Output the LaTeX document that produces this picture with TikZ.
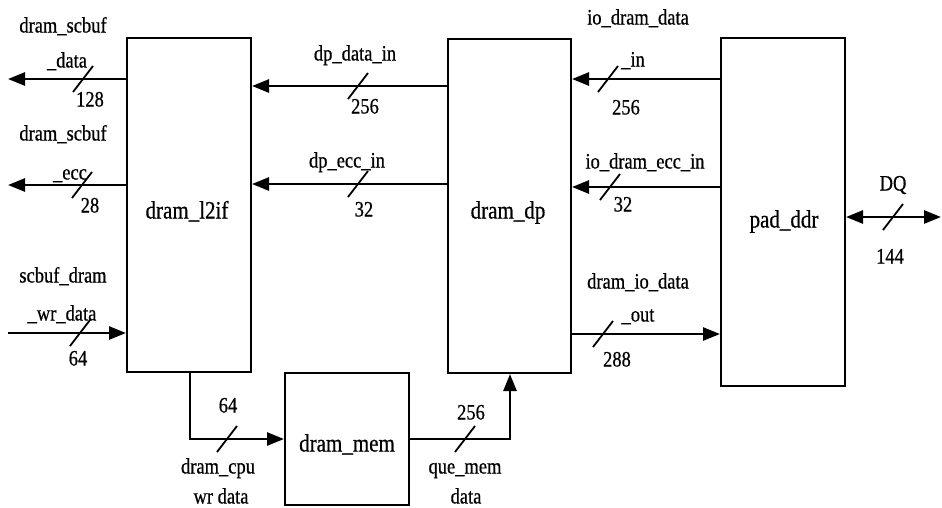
\documentclass[tikz,border=0pt]{standalone}
\usepackage{fontspec}
\setmainfont{Liberation Serif}[FakeStretch=0.84, FakeBold=0.6]
\usetikzlibrary{arrows.meta}
\begin{document}
\begin{tikzpicture}[x=1pt,y=-1pt,
  blk/.style={draw, line width=2pt, inner sep=0pt},
  sig/.style={line width=2.6pt, -{Triangle[length=17pt,width=13pt]}},
  bidir/.style={line width=2.6pt, {Triangle[length=17pt,width=13pt]}-{Triangle[length=17pt,width=13pt]}},
  slash/.style={line width=1.8pt},
  lbl/.style={inner sep=0pt, font=\fontsize{22}{24}\selectfont, text height=15pt, text depth=0pt},
  blbl/.style={inner sep=0pt, font=\fontsize{25}{27}\selectfont, text height=17pt, text depth=0pt}]
\useasboundingbox (0,0) rectangle (942,507);

% blocks
\node[blk, minimum width=124pt, minimum height=334pt] (l2if) at (189,205) {};
\node[blbl] (l2ift) at (187,210) {dram\_l2if};
\node[blk, minimum width=123pt, minimum height=334pt] (dp) at (509.5,206) {};
\node[blbl] (dpt) at (508,210) {dram\_dp};
\node[blk, minimum width=124pt, minimum height=348pt] (pad) at (783,212) {};
\node[blbl] (padt) at (784,219) {pad\_ddr};
\node[blk, minimum width=124pt, minimum height=132pt] (mem) at (347,439) {};
\node[blbl] (memt) at (347,443) {dram\_mem};

% free ends
\coordinate (o1) at (8,79);
\coordinate (o2) at (8,185);
\coordinate (i1) at (8,333);
\coordinate (dq) at (941,217);

% connectors
\draw[sig] (l2if.west |- o1) -- (o1);
\draw[sig] (l2if.west |- o2) -- (o2);
\draw[sig] (i1) -- (l2if.west |- i1);
\draw[sig] (dp.west |- 0,86) -- (l2if.east |- 0,86);
\draw[sig] (dp.west |- 0,184) -- (l2if.east |- 0,184);
\draw[sig] (pad.west |- 0,79) -- (dp.east |- 0,79);
\draw[sig] (pad.west |- 0,187) -- (dp.east |- 0,187);
\draw[sig] (dp.east |- 0,334) -- (pad.west |- 0,334);
\draw[bidir] (pad.east |- dq) -- (dq);
\draw[sig] (l2if.south -| 190,0) |- (mem.west);
\draw[sig] (mem.east) -| (dp.south -| 510,0);

% bus slashes
\foreach \x/\y in {83/79, 82/185, 80/333, 358/86, 358/184, 608/79, 610/187, 603/334, 893/217, 227/439, 465/439}
  \draw[slash] (\x,\y) ++(-10,13) -- ++(20,-26);

% labels
\node[lbl] (a1) at (63,25) {dram\_scbuf};
\node[lbl] (a2) at (67,60) {\_data};
\node[lbl] (a3) at (90,99) {128};
\node[lbl] (b1) at (63,133) {dram\_scbuf};
\node[lbl] (b2) at (70,172) {\_ecc};
\node[lbl] (b3) at (90,205) {28};
\node[lbl] (c1) at (63,275) {scbuf\_dram};
\node[lbl] (c2) at (62,313) {\_wr\_data};
\node[lbl] (c3) at (78,358) {64};
\node[lbl] (d1) at (228,405) {64};
\node[lbl] (d2) at (218,466) {dram\_cpu};
\node[lbl] (d3) at (221,496) {wr data};
\node[lbl] (e1) at (355,53) {dp\_data\_in};
\node[lbl] (e2) at (365,106) {256};
\node[lbl] (f1) at (347,160) {dp\_ecc\_in};
\node[lbl] (f2) at (364,209) {32};
\node[lbl] (g1) at (638,17) {io\_dram\_data};
\node[lbl] (g2) at (633,59) {\_in};
\node[lbl] (g3) at (626,107) {256};
\node[lbl] (h1) at (645,161) {io\_dram\_ecc\_in};
\node[lbl] (h2) at (623,204) {32};
\node[lbl] (k1) at (893,183) {DQ};
\node[lbl] (k2) at (890,256) {144};
\node[lbl] (m1) at (638,281) {dram\_io\_data};
\node[lbl] (m2) at (638,314) {\_out};
\node[lbl] (m3) at (617,359) {288};
\node[lbl] (n1) at (471,412) {256};
\node[lbl] (n2) at (465,466) {que\_mem};
\node[lbl] (n3) at (466,496) {data};
\end{tikzpicture}
\end{document}
